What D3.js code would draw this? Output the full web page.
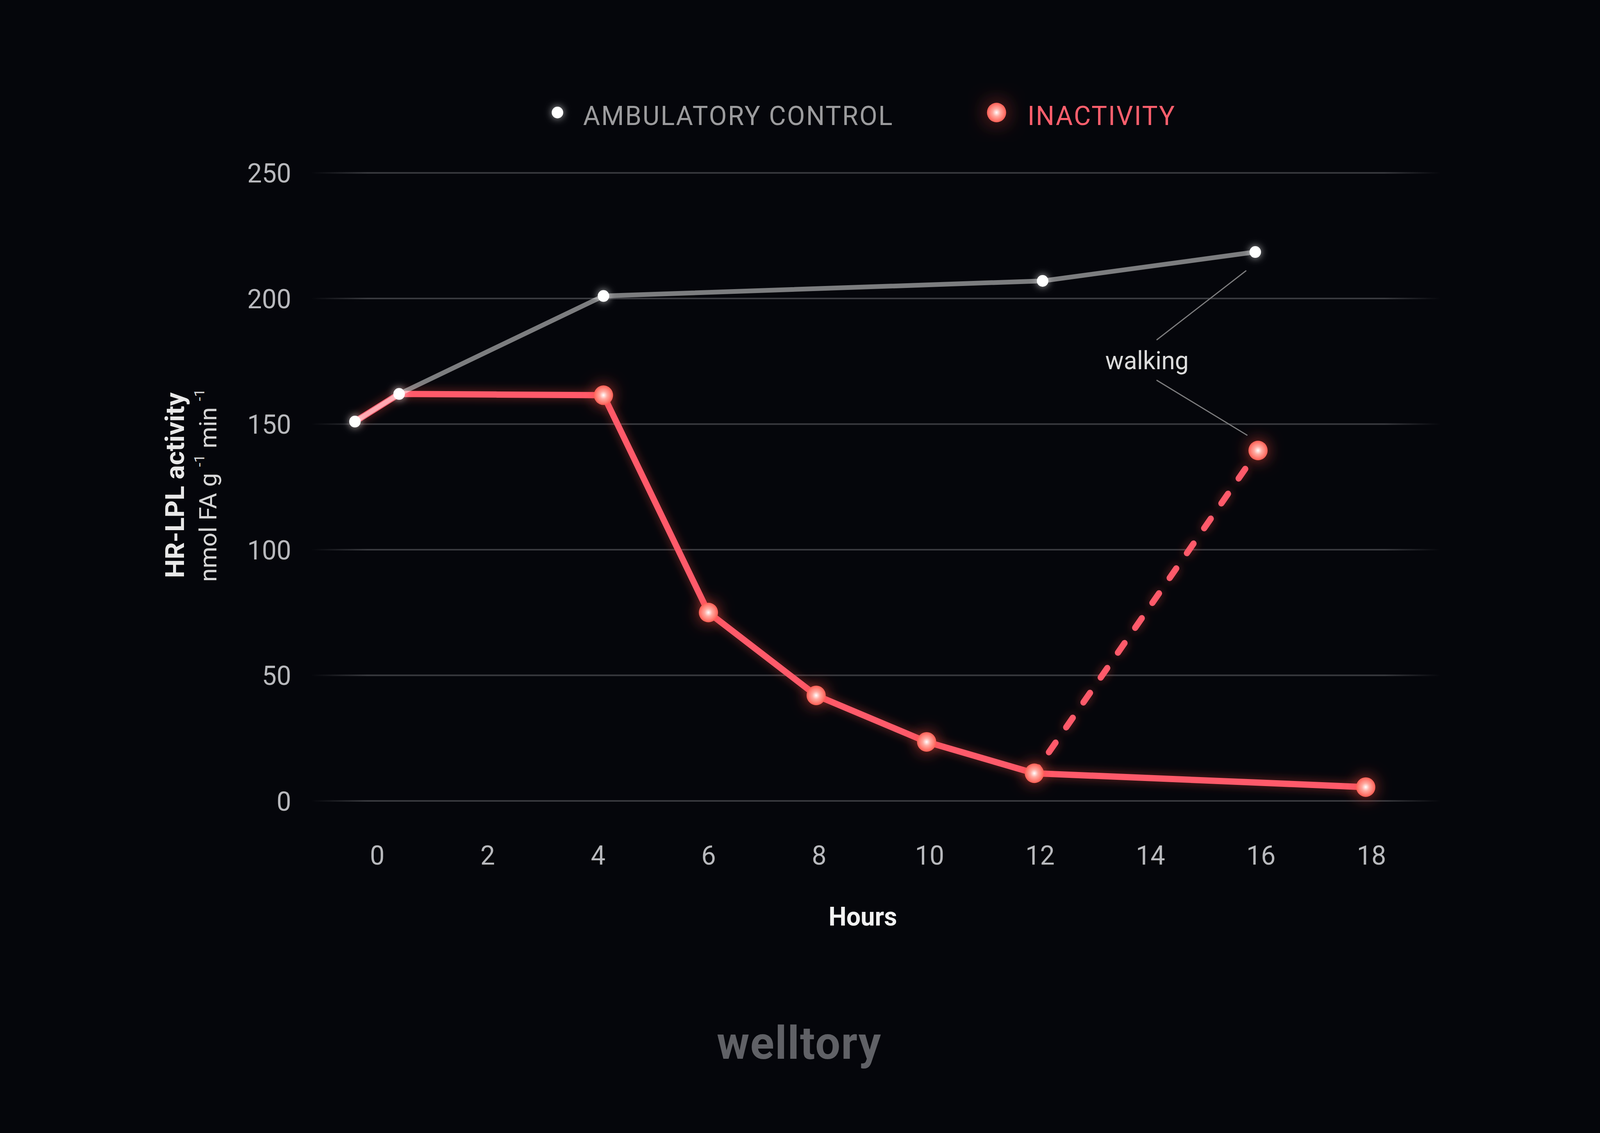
<!DOCTYPE html>
<html>
<head>
<meta charset="utf-8">
<script src="https://cdn.jsdelivr.net/npm/d3@7"></script>
<style>
  html, body { margin: 0; padding: 0; background: #05060b; overflow: hidden; }
  svg { display: block; width: 100vw; height: 100vh; }
</style>
</head>
<body>
<svg id="chart" viewBox="0 0 4176 2900" preserveAspectRatio="none"></svg>
<script>
// values
var hoursControl   = [-0.4, 0.4, 4.1, 12.05, 15.9];
var valuesControl  = [151, 162, 201, 207, 218.5];

var hoursInactive  = [-0.4, 0.4, 4.1, 6.0, 7.95, 9.95, 11.9, 17.9];
var valuesInactive = [151, 162, 161.5, 75, 42, 23.5, 11, 5.5];

var hoursWalking   = [11.9, 15.95];
var valuesWalking  = [11, 139.5];

var xTicks = [0, 2, 4, 6, 8, 10, 12, 14, 16, 18];
var yTicks = [0, 50, 100, 150, 200, 250];

var legendLabels = ["AMBULATORY CONTROL", "INACTIVITY"];

var FONT = "Roboto, 'Noto Sans', sans-serif";
var RED = "#ff5a6a";

var svg = d3.select("#chart");

svg.append("rect")
    .attr("width", 4176)
    .attr("height", 2900)
    .attr("fill", "#05060b");

var x = d3.scaleLinear().domain([0, 18]).range([984, 3579]),
    y = d3.scaleLinear().domain([0, 250]).range([2050, 442.5]);

// ---- defs: glows, gradients
var defs = svg.append("defs");

function glow(id, color, opacity, blur) {
  var f = defs.append("filter")
      .attr("id", id)
      .attr("x", "-100%").attr("y", "-100%")
      .attr("width", "300%").attr("height", "300%");
  f.append("feGaussianBlur")
      .attr("in", "SourceAlpha")
      .attr("stdDeviation", blur)
      .attr("result", "b");
  f.append("feFlood")
      .attr("flood-color", color)
      .attr("flood-opacity", opacity);
  f.append("feComposite")
      .attr("in2", "b")
      .attr("operator", "in")
      .attr("result", "g");
  var m = f.append("feMerge");
  m.append("feMergeNode").attr("in", "g");
  m.append("feMergeNode").attr("in", "SourceGraphic");
}
glow("lineGlow", "#ff4b3c", 0.45, 12);
glow("dotGlow", "#ff4b3c", 0.7, 20);
glow("legendGlow", "#ff4b3c", 0.6, 26);
glow("whiteGlow", "#ffffff", 0.7, 10);

var rg = defs.append("radialGradient").attr("id", "redDot");
rg.append("stop").attr("offset", "0%").attr("stop-color", "#ffffff");
rg.append("stop").attr("offset", "40%").attr("stop-color", "#ffaaa0");
rg.append("stop").attr("offset", "100%").attr("stop-color", "#ff5f55");

var gg = defs.append("linearGradient")
    .attr("id", "gridFade")
    .attr("gradientUnits", "userSpaceOnUse")
    .attr("x1", 812).attr("x2", 3760)
    .attr("y1", 0).attr("y2", 0);
gg.append("stop").attr("offset", "0%").attr("stop-color", "#393a3f").attr("stop-opacity", 0);
gg.append("stop").attr("offset", "5%").attr("stop-color", "#393a3f").attr("stop-opacity", 1);
gg.append("stop").attr("offset", "95%").attr("stop-color", "#393a3f").attr("stop-opacity", 1);
gg.append("stop").attr("offset", "100%").attr("stop-color", "#393a3f").attr("stop-opacity", 0);

// ---- grid
svg.append("g")
  .selectAll("line")
  .data(yTicks)
  .join("line")
    .attr("x1", 812)
    .attr("x2", 3760)
    .attr("y1", function(d) { return y(d); })
    .attr("y2", function(d) { return y(d); })
    .attr("stroke", "url(#gridFade)")
    .attr("stroke-width", 4);

// ---- axes
var gx = svg.append("g")
    .attr("transform", "translate(0,2213)")
    .call(d3.axisBottom(x).tickValues(xTicks).tickSize(0).tickPadding(0));
gx.select(".domain").remove();
gx.attr("font-family", FONT).attr("font-size", 68);
gx.selectAll("text").attr("y", 0).attr("dy", 0).attr("fill", "#b8b9bd");

var gy = svg.append("g")
    .attr("transform", "translate(760,0)")
    .call(d3.axisLeft(y).tickValues(yTicks).tickSize(0).tickPadding(0));
gy.select(".domain").remove();
gy.attr("font-family", FONT).attr("font-size", 68);
gy.selectAll("text").attr("x", 0).attr("dy", "0.36em").attr("fill", "#b8b9bd");

// axis titles
svg.append("text")
    .attr("x", 2252)
    .attr("y", 2369)
    .attr("text-anchor", "middle")
    .attr("font-family", FONT)
    .attr("font-weight", 700)
    .attr("font-size", 66)
    .attr("fill", "#f2f2f2")
    .text("Hours");

svg.append("text")
    .attr("transform", "translate(480,1242) rotate(-90)")
    .attr("text-anchor", "middle")
    .attr("font-family", FONT)
    .attr("font-weight", 700)
    .attr("font-size", 68)
    .attr("fill", "#e8e8e8")
    .text("HR-LPL activity");

var unit = svg.append("text")
    .attr("transform", "translate(565,1242) rotate(-90)")
    .attr("text-anchor", "middle")
    .attr("font-family", FONT)
    .attr("font-size", 63)
    .attr("fill", "#d6d6d6");
unit.append("tspan").text("nmol FA g ");
unit.append("tspan").attr("font-size", 38).attr("dy", -32).text("-1");
unit.append("tspan").attr("dy", 32).text(" min ");
unit.append("tspan").attr("font-size", 38).attr("dy", -32).text("-1");

// ---- lines
var line = d3.line()
    .x(function(d) { return x(d[0]); })
    .y(function(d) { return y(d[1]); });

var inactivePts = d3.zip(hoursInactive, valuesInactive),
    walkingPts = d3.zip(hoursWalking, valuesWalking),
    controlPts = d3.zip(hoursControl, valuesControl);

svg.append("path")
    .datum(inactivePts)
    .attr("d", line)
    .attr("fill", "none")
    .attr("stroke", RED)
    .attr("stroke-width", 16)
    .attr("stroke-linejoin", "round")
    .attr("filter", "url(#lineGlow)");

svg.append("path")
    .datum(walkingPts)
    .attr("d", line)
    .attr("fill", "none")
    .attr("stroke", RED)
    .attr("stroke-width", 16)
    .attr("stroke-linecap", "round")
    .attr("stroke-dasharray", "30 48")
    .attr("stroke-dashoffset", 12)
    .attr("filter", "url(#lineGlow)");

// white at half opacity reads grey on black, pink where it crosses the red line
svg.append("path")
    .datum(controlPts)
    .attr("d", line)
    .attr("fill", "none")
    .attr("stroke", "#ffffff")
    .attr("stroke-opacity", 0.48)
    .attr("stroke-width", 12)
    .attr("stroke-linejoin", "round");

// ---- markers
var redPts = inactivePts.slice(2).concat(walkingPts.slice(1));

svg.append("g")
  .selectAll("circle")
  .data(redPts)
  .join("circle")
    .attr("cx", function(d) { return x(d[0]); })
    .attr("cy", function(d) { return y(d[1]); })
    .attr("r", 25)
    .attr("fill", "url(#redDot)")
    .attr("filter", "url(#dotGlow)");

svg.append("g")
  .selectAll("circle")
  .data(controlPts)
  .join("circle")
    .attr("cx", function(d) { return x(d[0]); })
    .attr("cy", function(d) { return y(d[1]); })
    .attr("r", 15)
    .attr("fill", "#ffffff")
    .attr("filter", "url(#whiteGlow)");

// ---- "walking" annotation
var note = svg.append("g");
note.append("text")
    .attr("x", x(13.94))
    .attr("y", y(171.9))
    .attr("text-anchor", "middle")
    .attr("font-family", FONT)
    .attr("font-size", 64)
    .attr("fill", "#dcdcdc")
    .text("walking");
[[[14.12, 183.6], [15.73, 211.0]], [[14.12, 167.4], [15.75, 145.6]]].forEach(function(s) {
  note.append("line")
      .attr("x1", x(s[0][0])).attr("y1", y(s[0][1]))
      .attr("x2", x(s[1][0])).attr("y2", y(s[1][1]))
      .attr("stroke", "#7c7c7e")
      .attr("stroke-width", 3)
      .attr("stroke-linecap", "round");
});

// ---- legend
var legend = svg.append("g")
    .attr("font-family", FONT)
    .attr("font-size", 68)
    .attr("letter-spacing", 3);

legend.append("circle")
    .attr("cx", 1455).attr("cy", 288).attr("r", 15)
    .attr("fill", "#ffffff")
    .attr("filter", "url(#whiteGlow)");
legend.append("text")
    .attr("x", 1522).attr("y", 320)
    .attr("fill", "#9c9c9e")
    .text(legendLabels[0]);

legend.append("circle")
    .attr("cx", 2601).attr("cy", 288).attr("r", 25)
    .attr("fill", "url(#redDot)")
    .attr("filter", "url(#legendGlow)");
legend.append("text")
    .attr("x", 2682).attr("y", 320)
    .attr("fill", "#ff5f6d")
    .text(legendLabels[1]);

// ---- logo
svg.append("text")
    .attr("x", 2086)
    .attr("y", 2710)
    .attr("text-anchor", "middle")
    .attr("font-family", FONT)
    .attr("font-weight", 700)
    .attr("font-size", 116)
    .attr("letter-spacing", 2)
    .attr("fill", "#606166")
    .text("welltory");
</script>
</body>
</html>
